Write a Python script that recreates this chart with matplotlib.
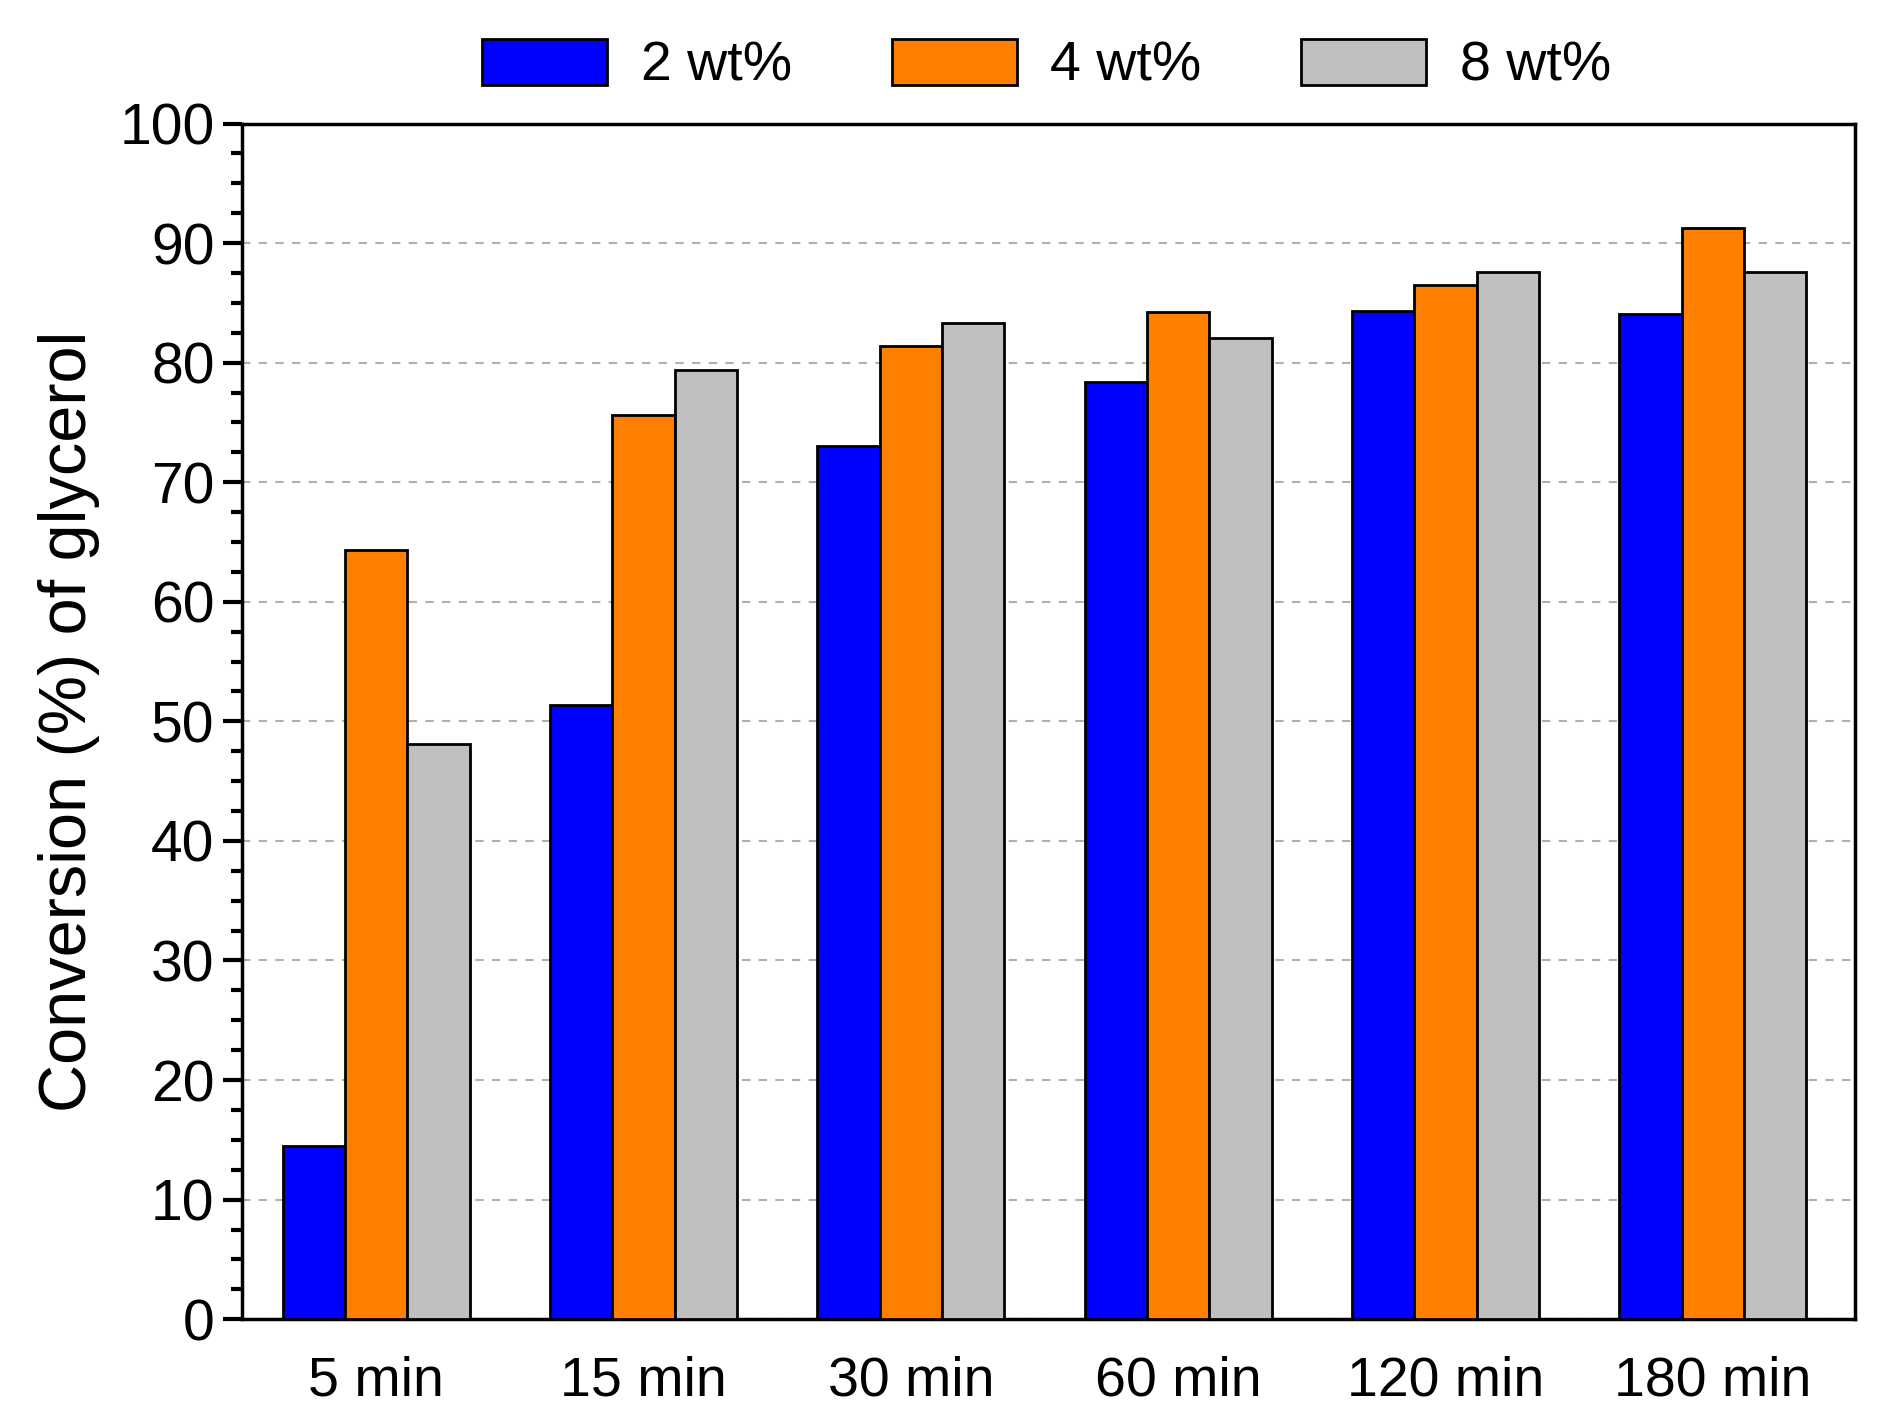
import numpy as np
import matplotlib.pyplot as plt
from matplotlib.ticker import MultipleLocator

plt.rcParams['font.family'] = ['Liberation Sans', 'DejaVu Sans']

# data
times = ['5 min', '15 min', '30 min', '60 min', '120 min', '180 min']
conv_2wt = [14.5, 51.4, 73.0, 78.4, 84.3, 84.1]
conv_4wt = [64.3, 75.6, 81.4, 84.2, 86.5, 91.3]
conv_8wt = [48.1, 79.4, 83.3, 82.1, 87.6, 87.6]
labels = ['2 wt%', '4 wt%', '8 wt%']
colors = ['#0000ff', '#ff7f00', '#c0c0c0']

fig = plt.figure(figsize=(18.79, 14.2), dpi=100)
ax = fig.add_axes([0.129, 0.071, 0.858, 0.842])

x = np.arange(len(times))
w = 0.233
for i, (vals, lab, c) in enumerate(zip([conv_2wt, conv_4wt, conv_8wt], labels, colors)):
    ax.bar(x + (i - 1) * w, vals, w, color=c, edgecolor='black', linewidth=2,
           label=lab, zorder=3)

ax.set_xlim(-0.5, 5.53)
ax.set_ylim(0, 100)
ax.set_xticks(x)
ax.set_xticklabels(times)
ax.yaxis.set_major_locator(MultipleLocator(10))
ax.yaxis.set_minor_locator(MultipleLocator(2.5))
ax.tick_params(axis='y', which='major', direction='out', length=14, width=3,
               labelsize=41, pad=6)
ax.tick_params(axis='y', which='minor', direction='out', length=8, width=3)
ax.tick_params(axis='x', length=0, labelsize=40, pad=26)
for s in ax.spines.values():
    s.set_linewidth(2.5)

ax.grid(axis='y', linestyle=(0, (4, 4)), color='#b0b0b0', linewidth=1.5, zorder=0)
ax.set_ylabel('Conversion (%) of glycerol', fontsize=48, labelpad=14)

fig.legend(loc='upper center', bbox_to_anchor=(0.557, 1.008), ncol=3, frameon=False,
           fontsize=40, handlelength=2.25, handleheight=0.9, columnspacing=1.8,
           handletextpad=0.6)

fig.savefig('out.png', dpi=100)
